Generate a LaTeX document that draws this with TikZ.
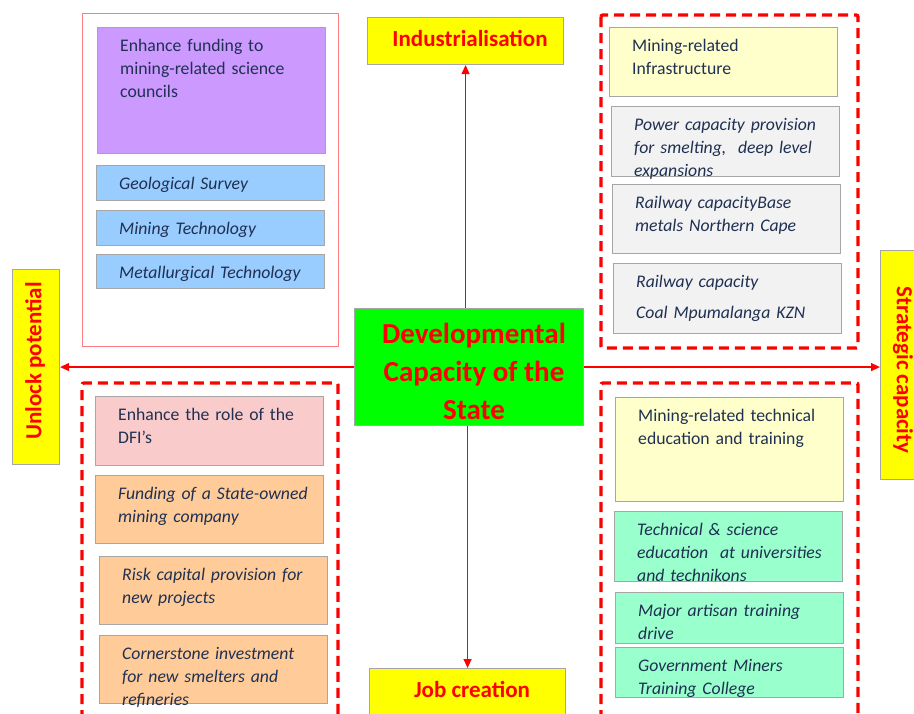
\documentclass[tikz,border=0pt]{standalone}
\usepackage{fontspec}
\setmainfont{Carlito}
\usetikzlibrary{arrows.meta}

\definecolor{ink}{HTML}{1F3052}
\definecolor{edge}{HTML}{A6A6A6}
\definecolor{lilac}{HTML}{CC99FF}
\definecolor{sky}{HTML}{99CCFF}
\definecolor{cream}{HTML}{FFFFCC}
\definecolor{mist}{HTML}{F2F2F2}
\definecolor{blush}{HTML}{FACBCB}
\definecolor{apricot}{HTML}{FFCC99}
\definecolor{mint}{HTML}{99FFCC}
\definecolor{lemon}{HTML}{FFFF00}
\definecolor{lime}{HTML}{00FF00}
\definecolor{alert}{HTML}{FF0000}
\definecolor{softred}{HTML}{FF7C80}

\tikzset{
  cardbox/.style={draw=edge, line width=1.1pt, inner sep=0pt, anchor=north west},
  cardtext/.style={text=ink, font=\fontsize{17.7}{23}\selectfont, text width=300pt,
                   align=left, inner sep=0pt, anchor=base west},
  headbox/.style={fill=lemon, draw=edge, line width=1.1pt, inner sep=0pt, anchor=north west},
  headtext/.style={text=alert, font=\bfseries\fontsize{23}{28}\selectfont, inner sep=0pt},
  groupframe/.style={draw=alert, line width=3.4pt, dash pattern=on 10pt off 6pt, rounded corners=2pt},
  flow/.style={draw=alert, line width=1.3pt, -{Triangle[length=9pt,width=8pt]}}
}

% card: name, x, y, width, height, fill, text
\newcommand\card[7]{%
  \node[cardbox, fill=#6, minimum width=#4pt, minimum height=#5pt] (#1) at (#2,#3) {};
  \node[cardtext] (#1-t) at ([shift={(23,24)}]#1.north west) {#7};
}

\begin{document}
\begin{tikzpicture}[x=1pt, y=-1pt]
\clip (0,0) rectangle (914,713);
\fill[white] (0,0) rectangle (914,713);

% ---- science councils (top left)
\node[draw=softred, line width=1pt, inner sep=0pt, anchor=north west,
      minimum width=256pt, minimum height=333pt] (sciframe) at (82,13) {};
\card{councils}{97}{27}{228}{126}{lilac}{Enhance funding to\\mining-related science\\councils}
\card{geo}{96}{165}{228}{35}{sky}{\itshape Geological Survey}
\card{mintech}{96}{210}{228}{35}{sky}{\itshape Mining Technology}
\card{met}{96}{254}{228}{34}{sky}{\itshape Metallurgical Technology}

% ---- infrastructure (top right)
\draw[groupframe] (601,15) rectangle (858,348);
\card{infra}{609}{27}{228}{69}{cream}{Mining-related\\Infrastructure}
\card{power}{611}{106}{228}{70}{mist}{\itshape Power capacity provision\\for smelting,\ \ deep level\\expansions}
\card{railnc}{612}{184}{228}{69}{mist}{\itshape Railway capacityBase\\metals Northern Cape}
\card{railkzn}{613}{263}{228}{70}{mist}{\itshape Railway capacity\\[8pt]Coal Mpumalanga KZN}

% ---- funding (bottom left)
\draw[groupframe] (82,720) -- (82,383) -- (338,383) -- (338,720);
\card{dfi}{95}{396}{228}{69}{blush}{Enhance the role of the\\DFI’s}
\card{stateco}{95}{475}{228}{68}{apricot}{\itshape Funding of a State-owned\\mining company}
\card{risk}{99}{556}{228}{68}{apricot}{\itshape Risk capital provision for\\new projects}
\card{smelt}{99}{635}{228}{68}{apricot}{\itshape Cornerstone investment\\for new smelters and\\refineries}

% ---- skills (bottom right)
\draw[groupframe] (601,720) -- (601,383) -- (858,383) -- (858,720);
\card{edu}{615}{397}{228}{104}{cream}{Mining-related technical\\education and training}
\card{uni}{614}{511}{228}{70}{mint}{\itshape Technical \& science\\education\ \ at universities\\and technikons}
\card{artisan}{615}{592}{228}{51}{mint}{\itshape Major artisan training\\drive}
\card{college}{615}{647}{228}{50}{mint}{\itshape Government Miners\\Training College}

% ---- centre and outcomes
\node[fill=lime, draw=edge, line width=1.1pt, inner sep=0pt, anchor=north west,
      minimum width=229pt, minimum height=117pt] (core) at (354,308) {};
\node[text=alert, font=\bfseries\fontsize{29}{38}\selectfont, align=center, inner sep=0pt]
      (core-t) at (474,371) {Developmental\\Capacity of the\\State};

\node[headbox, minimum width=196pt, minimum height=47pt] (ind) at (367,17) {};
\node[headtext, anchor=base] (ind-t) at (470,46) {Industrialisation};

\node[headbox, minimum width=196pt, minimum height=60pt] (jobs) at (369,668) {};
\node[headtext, anchor=base] (jobs-t) at (472,697) {Job creation};

\node[headbox, minimum width=47pt, minimum height=195pt] (unlock) at (12,269) {};
\node[headtext, rotate=90] (unlock-t) at (35,361) {Unlock potential};

\node[headbox, minimum width=60pt, minimum height=229pt] (strat) at (880,250) {};
\node[headtext, rotate=-90] (strat-t) at (903,370) {Strategic capacity};

% ---- connectors
\draw[flow] (core.north -| ind.south) -- (ind.south);
\draw[flow] (core.south -| jobs.north) -- (jobs.north);
\draw[flow] (core.west) -- (unlock.east |- core.west);
\draw[flow] (core.east) -- (strat.west |- core.east);
\end{tikzpicture}
\end{document}
